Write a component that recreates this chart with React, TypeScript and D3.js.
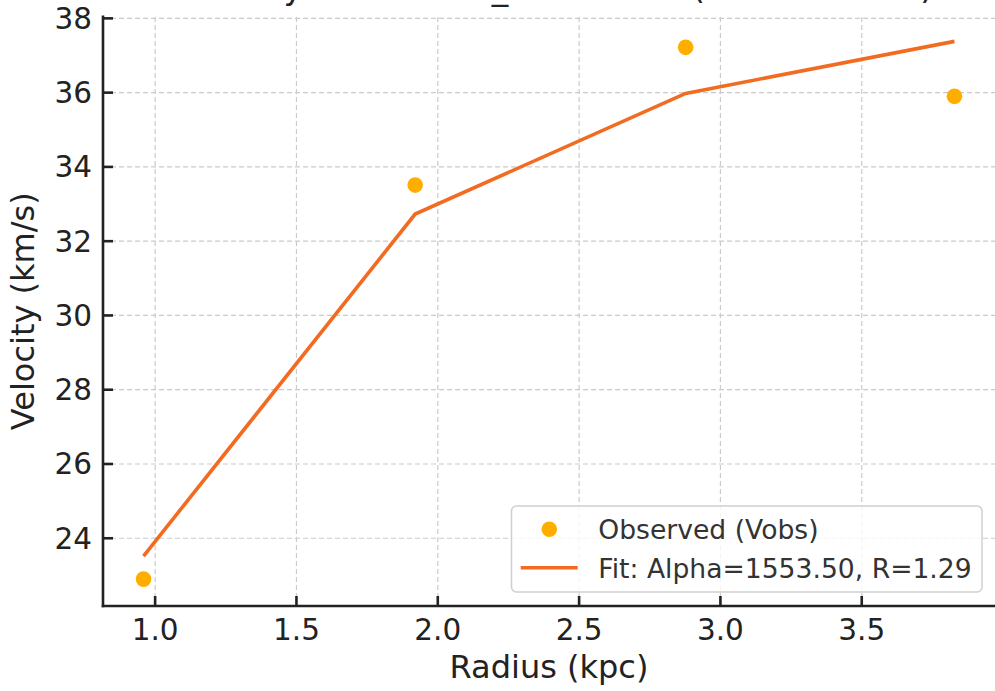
import React, { useEffect, useRef } from 'react';
import * as d3 from 'd3';

const width = 995;
const height = 691;
const margin = { top: 14.5, right: 0, bottom: 85, left: 103 };
const font = 'DejaVu Sans, sans-serif';

// radius (kpc) and velocities (km/s)
const radius = [0.959, 1.92, 2.877, 3.828];
const vObs = [22.9, 33.51, 37.22, 35.9];
const vFit = [23.52, 32.73, 35.98, 37.38];

const xTicks = [1.0, 1.5, 2.0, 2.5, 3.0, 3.5];
const yTicks = [24, 26, 28, 30, 32, 34, 36, 38];
const title = 'Rotation Velocity Fit for NGC_3741 Data (Halo Model 1)';
const legendLabels = ['Observed (Vobs)', 'Fit: Alpha=1553.50, R=1.29'];

const obsColor = '#ffae00';
const fitColor = '#f26b21';

const pad = (lo: number, hi: number) => {
  const m = (hi - lo) * 0.05;
  return [lo - m, hi + m];
};

const App = () => {
  const ref = useRef<SVGSVGElement>(null);

  useEffect(() => {
    document.body.style.margin = '0';
    const svg = d3.select(ref.current);
    svg.selectAll('*').remove();

    const allV = vObs.concat(vFit);
    const x = d3
      .scaleLinear()
      .domain(pad(d3.min(radius), d3.max(radius)))
      .range([margin.left, width - margin.right]);
    const y = d3
      .scaleLinear()
      .domain(pad(d3.min(allV), d3.max(allV)))
      .range([height - margin.bottom, margin.top]);

    const x0 = margin.left;
    const x1 = width - margin.right;
    const y0 = height - margin.bottom;
    const y1 = margin.top;

    // grid
    const grid = svg.append('g').attr('stroke', '#cbcbcb').attr('stroke-width', 1.2).attr('stroke-dasharray', '5,3');
    grid
      .selectAll('line.gx')
      .data(xTicks)
      .enter()
      .append('line')
      .attr('x1', d => x(d))
      .attr('x2', d => x(d))
      .attr('y1', y0)
      .attr('y2', y1);
    grid
      .selectAll('line.gy')
      .data(yTicks)
      .enter()
      .append('line')
      .attr('x1', x0)
      .attr('x2', x1)
      .attr('y1', d => y(d))
      .attr('y2', d => y(d));

    // fit line
    const line = d3
      .line<number>()
      .x((d, i) => x(radius[i]))
      .y(d => y(d));
    svg
      .append('path')
      .attr('d', line(vFit))
      .attr('fill', 'none')
      .attr('stroke', fitColor)
      .attr('stroke-width', 3.6);

    // observed points
    svg
      .selectAll('circle.obs')
      .data(vObs)
      .enter()
      .append('circle')
      .attr('cx', (d, i) => x(radius[i]))
      .attr('cy', d => y(d))
      .attr('r', 7.8)
      .attr('fill', obsColor);

    // spines
    const axis = svg.append('g').attr('stroke', '#222').attr('stroke-width', 2.6);
    axis.append('line').attr('x1', x0).attr('x2', x0).attr('y1', y1 + 1).attr('y2', y0 + 1.3);
    axis.append('line').attr('x1', x0 - 1.3).attr('x2', x1).attr('y1', y0).attr('y2', y0);
    axis
      .selectAll('line.tx')
      .data(xTicks)
      .enter()
      .append('line')
      .attr('x1', d => x(d))
      .attr('x2', d => x(d))
      .attr('y1', y0)
      .attr('y2', y0 - 10);
    axis
      .selectAll('line.ty')
      .data(yTicks)
      .enter()
      .append('line')
      .attr('x1', x0)
      .attr('x2', x0 + 10)
      .attr('y1', d => y(d))
      .attr('y2', d => y(d));

    // tick labels
    svg
      .selectAll('text.tx')
      .data(xTicks)
      .enter()
      .append('text')
      .attr('x', d => x(d))
      .attr('y', y0 + 34)
      .attr('text-anchor', 'middle')
      .attr('font-family', font)
      .attr('font-size', 29.5)
      .attr('fill', '#222')
      .text(d => d3.format('.1f')(d));
    svg
      .selectAll('text.ty')
      .data(yTicks)
      .enter()
      .append('text')
      .attr('x', x0 - 11)
      .attr('y', d => y(d) + 10.5)
      .attr('text-anchor', 'end')
      .attr('font-family', font)
      .attr('font-size', 29.5)
      .attr('fill', '#222')
      .text(d => d);

    // axis labels
    svg
      .append('text')
      .attr('x', (x0 + x1) / 2)
      .attr('y', 678)
      .attr('text-anchor', 'middle')
      .attr('font-family', font)
      .attr('font-size', 32)
      .attr('fill', '#222')
      .text('Radius (kpc)');
    svg
      .append('text')
      .attr('transform', `translate(34,${(y0 + y1) / 2 + 1}) rotate(-90)`)
      .attr('text-anchor', 'middle')
      .attr('font-family', font)
      .attr('font-size', 32)
      .attr('fill', '#222')
      .text('Velocity (km/s)');

    // title, mostly cut off by the top edge
    svg
      .append('text')
      .attr('x', 25)
      .attr('y', -1)
      .attr('font-family', font)
      .attr('font-size', 33)
      .attr('fill', '#222')
      .text(title);

    // legend
    const lg = svg.append('g');
    lg.append('rect')
      .attr('x', 511.5)
      .attr('y', 506)
      .attr('width', 470.5)
      .attr('height', 86)
      .attr('rx', 5)
      .attr('fill', 'white')
      .attr('fill-opacity', 0.8)
      .attr('stroke', '#cfcfcf')
      .attr('stroke-width', 1.5);
    lg.append('circle').attr('cx', 549.3).attr('cy', 529.3).attr('r', 7.8).attr('fill', obsColor);
    lg.append('line')
      .attr('x1', 520.7)
      .attr('x2', 577.7)
      .attr('y1', 567.7)
      .attr('y2', 567.7)
      .attr('stroke', fitColor)
      .attr('stroke-width', 3.6);
    lg.selectAll('text')
      .data(legendLabels)
      .enter()
      .append('text')
      .attr('x', 598.3)
      .attr('y', (d, i) => 538.5 + i * 39)
      .attr('font-family', font)
      .attr('font-size', 26.6)
      .attr('fill', '#333')
      .text(d => d);
  });

  return <svg ref={ref} width={width} height={height} style={{ display: 'block' }}></svg>;
};

export default App;
